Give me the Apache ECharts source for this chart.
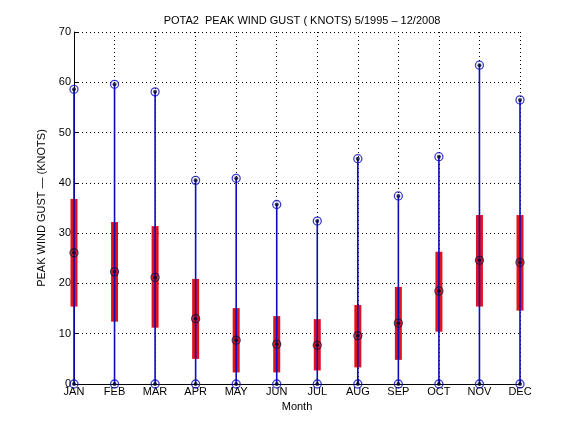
<!doctype html>
<html lang="en">
<head>
    <meta charset="UTF-8">
    <title>POTA2 peak wind gust</title>
    <style>
        html, body { margin: 0; padding: 0; background: #fff; }
        #main { width: 576px; height: 432px; }
    </style>
</head>
<body>
    <div id="main"></div>
<script src="https://cdn.jsdelivr.net/npm/echarts@6/dist/echarts.min.js"></script>
<script type="text/javascript">
    // 月份 / 数值
    const months = ['JAN', 'FEB', 'MAR', 'APR', 'MAY', 'JUN', 'JUL', 'AUG', 'SEP', 'OCT', 'NOV', 'DEC']
    const minGust = [0, 0, 0, 0, 0, 0, 0, 0, 0, 0, 0, 0]
    const maxGust = [58.6, 59.6, 58.1, 40.5, 40.9, 35.7, 32.4, 44.8, 37.4, 45.2, 63.4, 56.5]
    const medianGust = [26.1, 22.3, 21.2, 13.0, 8.7, 7.9, 7.7, 9.6, 12.1, 18.5, 24.6, 24.2]
    const lowerGust = [15.4, 12.4, 11.2, 5.0, 2.3, 2.3, 2.7, 3.3, 4.8, 10.4, 15.4, 14.6]
    const upperGust = [36.8, 32.2, 31.4, 20.9, 15.1, 13.5, 12.9, 15.7, 19.3, 26.3, 33.6, 33.6]
    const yTicks = [0, 10, 20, 30, 40, 50, 60, 70]

    const blue = '#0c0cc0'
    const red = '#e3121f'
    const font = 'Liberation Sans, Arial, sans-serif'

    const myChart = echarts.init(document.getElementById('main'))

    const rangeData = months.map((m, i) => [i, minGust[i], maxGust[i]])
    const boxData = months.map((m, i) => [i, lowerGust[i], upperGust[i]])
    const ptsMax = months.map((m, i) => [i, maxGust[i]])
    const ptsMin = months.map((m, i) => [i, minGust[i]])
    const ptsMed = months.map((m, i) => [i, medianGust[i]])

    const option = {
        animation: false,
        backgroundColor: '#fff',
        title: {
            text: 'POTA2  PEAK WIND GUST ( KNOTS) 5/1995 \u2013 12/2008',
            left: 297, top: 10, textAlign: 'center',
            textStyle: { fontFamily: font, fontSize: 11, fontWeight: 'normal', color: '#000' }
        },
        grid: { left: 74, right: 56, top: 32, bottom: 48, containLabel: false },
        xAxis: {
            type: 'category',
            data: months,
            boundaryGap: false,
            name: 'Month',
            nameLocation: 'middle',
            nameGap: 15,
            nameTextStyle: { fontFamily: font, fontSize: 11, color: '#000' },
            axisLine: { lineStyle: { color: '#000', width: 1 } },
            axisTick: { inside: true, length: 5, lineStyle: { color: '#000' } },
            axisLabel: { fontFamily: font, fontSize: 11, color: '#000', margin: 2, interval: 0 },
            splitLine: { show: true, lineStyle: { color: '#000', type: [1, 3], width: 1 } }
        },
        yAxis: {
            type: 'value',
            min: yTicks[0],
            max: yTicks[yTicks.length - 1],
            interval: 10,
            name: 'PEAK WIND GUST \u2014 (KNOTS)',
            nameLocation: 'middle',
            nameGap: 10,
            nameTextStyle: { fontFamily: font, fontSize: 11, color: '#000' },
            axisLine: { show: true, lineStyle: { color: '#000', width: 1 } },
            axisTick: { show: true, inside: true, length: 5, lineStyle: { color: '#000' } },
            axisLabel: { fontFamily: font, fontSize: 11, color: '#000', margin: 3 },
            splitLine: { show: true, lineStyle: { color: '#000', type: [1, 3], width: 1 } }
        },
        series: [
            {
                name: 'range',
                type: 'custom',
                z: 3,
                data: boxData,
                renderItem: function (params, api) {
                    const lo = api.coord([api.value(0), api.value(1)])
                    const hi = api.coord([api.value(0), api.value(2)])
                    return {
                        type: 'rect',
                        shape: { x: lo[0] - 3.5, y: hi[1], width: 7, height: lo[1] - hi[1] },
                        style: { fill: red }
                    }
                }
            },
            {
                name: 'minmax',
                type: 'custom',
                z: 4,
                data: rangeData,
                renderItem: function (params, api) {
                    const lo = api.coord([api.value(0), api.value(1)])
                    const hi = api.coord([api.value(0), api.value(2)])
                    return {
                        type: 'line',
                        shape: { x1: lo[0], y1: lo[1], x2: hi[0], y2: hi[1] },
                        style: { stroke: blue, lineWidth: 1.6 }
                    }
                }
            },
            {
                name: 'max',
                type: 'scatter',
                z: 5,
                data: ptsMax.concat(ptsMin),
                symbol: 'circle',
                symbolSize: 8,
                itemStyle: { color: 'rgba(0,0,0,0)', borderColor: blue, borderWidth: 1.3 }
            },
            {
                name: 'median',
                type: 'scatter',
                z: 5,
                data: ptsMed,
                symbol: 'circle',
                symbolSize: 8,
                itemStyle: { color: 'rgba(0,0,0,0)', borderColor: '#10103a', borderWidth: 1.3 }
            },
            {
                name: 'dots',
                type: 'scatter',
                z: 6,
                data: ptsMax.concat(ptsMin, ptsMed),
                symbol: 'circle',
                symbolSize: 4,
                itemStyle: { color: '#000030' }
            }
        ]
    }
    myChart.setOption(option)
</script>
</body>
</html>
